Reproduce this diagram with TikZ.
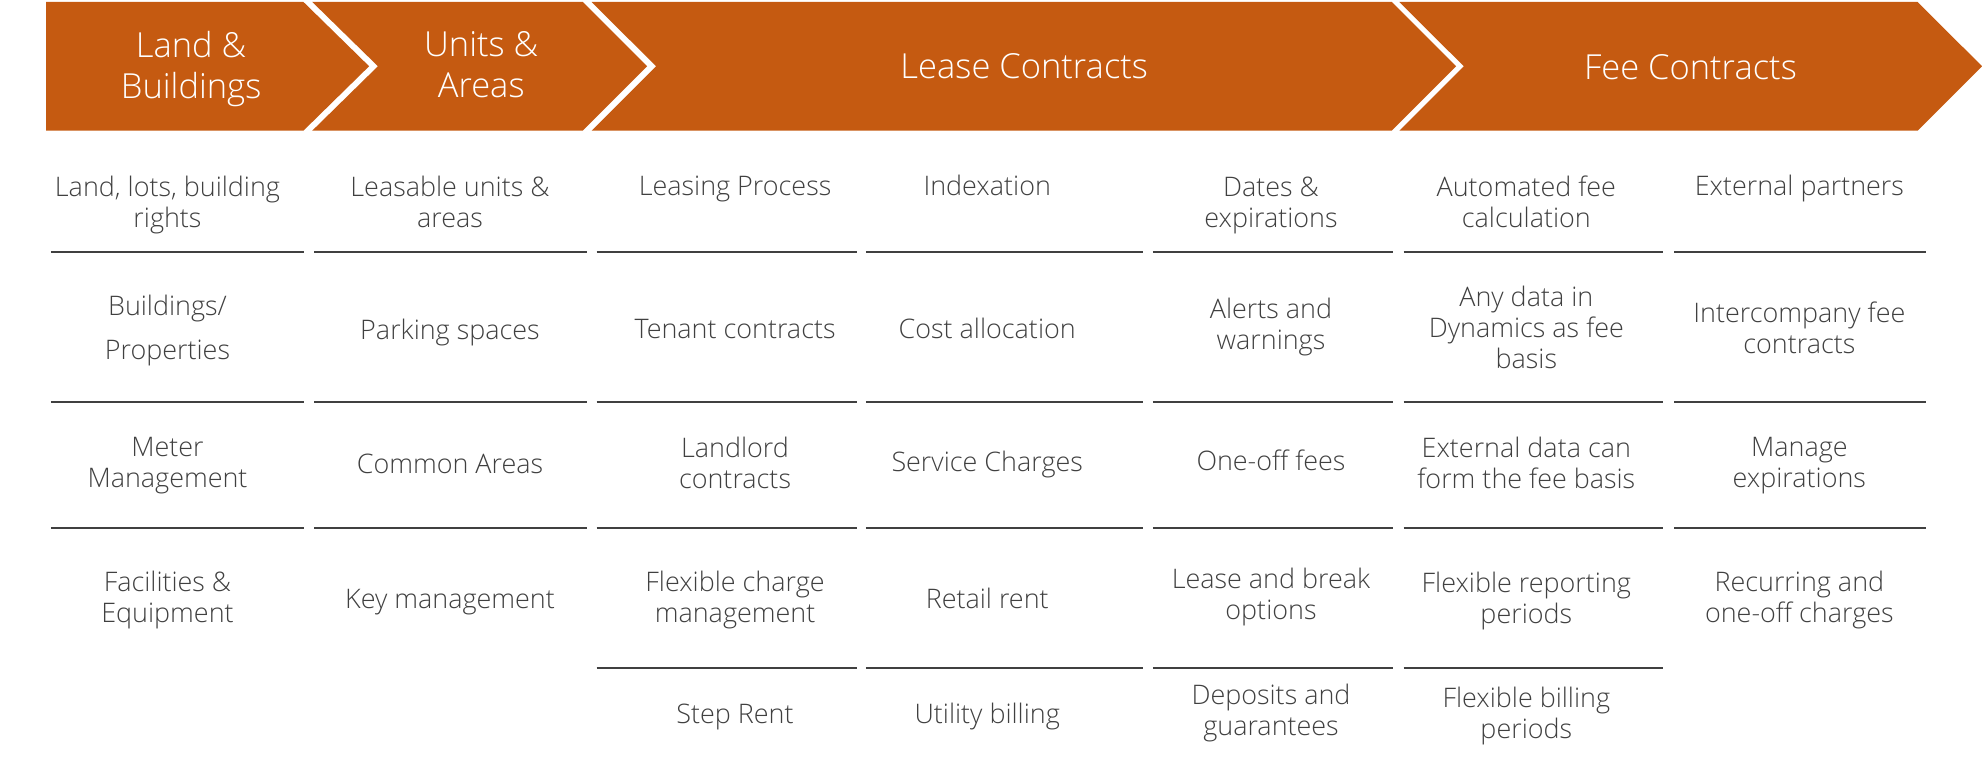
\documentclass[tikz,border=0pt]{standalone}
\usepackage{fontspec}
\IfFontExistsTF{Open Sans Light}{\setmainfont{Open Sans Light}}{\setmainfont{Open Sans}}
\definecolor{chev}{HTML}{C55A11}
\definecolor{ink}{HTML}{404040}
\begin{document}
\begin{tikzpicture}[x=1pt,y=-1pt,
  hdr/.style={text=white,font=\fontsize{27.3}{32.5}\selectfont,align=center,inner sep=0pt,
    yshift=-1pt,execute at begin node=\strut,execute at end node=\strut},
  cell/.style={text=ink,font=\fontsize{21.3}{24.5}\selectfont,align=center,inner sep=0pt,
    yshift=-3pt,execute at begin node=\strut,execute at end node=\strut},
  sepline/.style={draw=ink,line width=1.6pt},
  chevfill/.style={fill=chev,draw=none}]
\useasboundingbox (0,0) rectangle (1568,608.4);
% chevrons
\fill[chevfill] (36.4,1.5) -- (240,1.5) -- (292,52.4) -- (240,103.4) -- (36.4,103.4) -- cycle;
\fill[chevfill] (247,1.5) -- (461,1.5) -- (512,52.4) -- (461,103.4) -- (247,103.4) -- (299,52.4) -- cycle;
\fill[chevfill] (468,1.5) -- (1101,1.5) -- (1152,52.4) -- (1101,103.4) -- (468,103.4) -- (519,52.4) -- cycle;
\fill[chevfill] (1107,1.5) -- (1517,1.5) -- (1568,52.4) -- (1517,103.4) -- (1107,103.4) -- (1158,52.4) -- cycle;
% header texts
\node[hdr] (h1) at (151.2,55.1) {Land \&\\Buildings};
\node[hdr] (h2) at (380.7,54.9) {Units \&\\Areas};
\node[hdr] (h3) at (810.3,54.9) {Lease Contracts};
\node[hdr] (h4) at (1337.3,55.5) {Fee Contracts};
% separator lines
\foreach \a/\b in {40.3/240.3,248.5/464.5,472/678,685/904,912/1102,1110.4/1316,1324.5/1523.4}{
  \foreach \y in {199.1,317.8,417.5}{\draw[sepline] (\a,\y) -- (\b,\y);}
}
\foreach \a/\b in {472/678,685/904,912/1102,1110.4/1316}{\draw[sepline] (\a,528.2) -- (\b,528.2);}
% column 1
\node[cell] (a1) at (132.5,160.6) {Land, lots, building\\rights};
\node[cell] (a2) at (132.5,259.7) {Buildings/\\[9.8pt]Properties};
\node[cell] (a3) at (132.5,366.5) {Meter\\Management};
\node[cell] (a4) at (132.5,472.7) {Facilities \&\\Equipment};
% column 2
\node[cell] (b1) at (356,160.5) {Leasable units \&\\areas};
\node[cell] (b2) at (356,260.5) {Parking spaces};
\node[cell] (b3) at (356,366.6) {Common Areas};
\node[cell] (b4) at (356,473.4) {Key management};
% column 3
\node[cell] (c1) at (581.5,146.4) {Leasing Process};
\node[cell] (c2) at (581.5,259.8) {Tenant contracts};
\node[cell] (c3) at (581.5,366.5) {Landlord\\contracts};
\node[cell] (c4) at (581.5,472.7) {Flexible charge\\management};
\node[cell] (c5) at (581.5,564.3) {Step Rent};
% column 4
\node[cell] (d1) at (781,146.4) {Indexation};
\node[cell] (d2) at (781,259.8) {Cost allocation};
\node[cell] (d3) at (781,365.3) {Service Charges};
\node[cell] (d4) at (781,473.4) {Retail rent};
\node[cell] (d5) at (781,564.3) {Utility billing};
% column 5
\node[cell] (e1) at (1005.5,160.5) {Dates \&\\expirations};
\node[cell] (e2) at (1005.5,256.9) {Alerts and\\warnings};
\node[cell] (e3) at (1005.5,364) {One-off fees};
\node[cell] (e4) at (1005.5,470.5) {Lease and break\\options};
\node[cell] (e5) at (1005.5,562.4) {Deposits and\\guarantees};
% column 6
\node[cell] (f1) at (1207.5,160.5) {Automated fee\\calculation};
\node[cell] (f2) at (1207.5,259.6) {Any data in\\Dynamics as fee\\basis};
\node[cell] (f3) at (1207.5,366.5) {External data can\\form the fee basis};
\node[cell] (f4) at (1207.5,473.3) {Flexible reporting\\periods};
\node[cell] (f5) at (1207.5,564.3) {Flexible billing\\periods};
% column 7
\node[cell] (g1) at (1423.5,146.4) {External partners};
\node[cell] (g2) at (1423.5,259.7) {Intercompany fee\\contracts};
\node[cell] (g3) at (1423.5,366.5) {Manage\\expirations};
\node[cell] (g4) at (1423.5,472.7) {Recurring and\\one-off charges};
\end{tikzpicture}
\end{document}
